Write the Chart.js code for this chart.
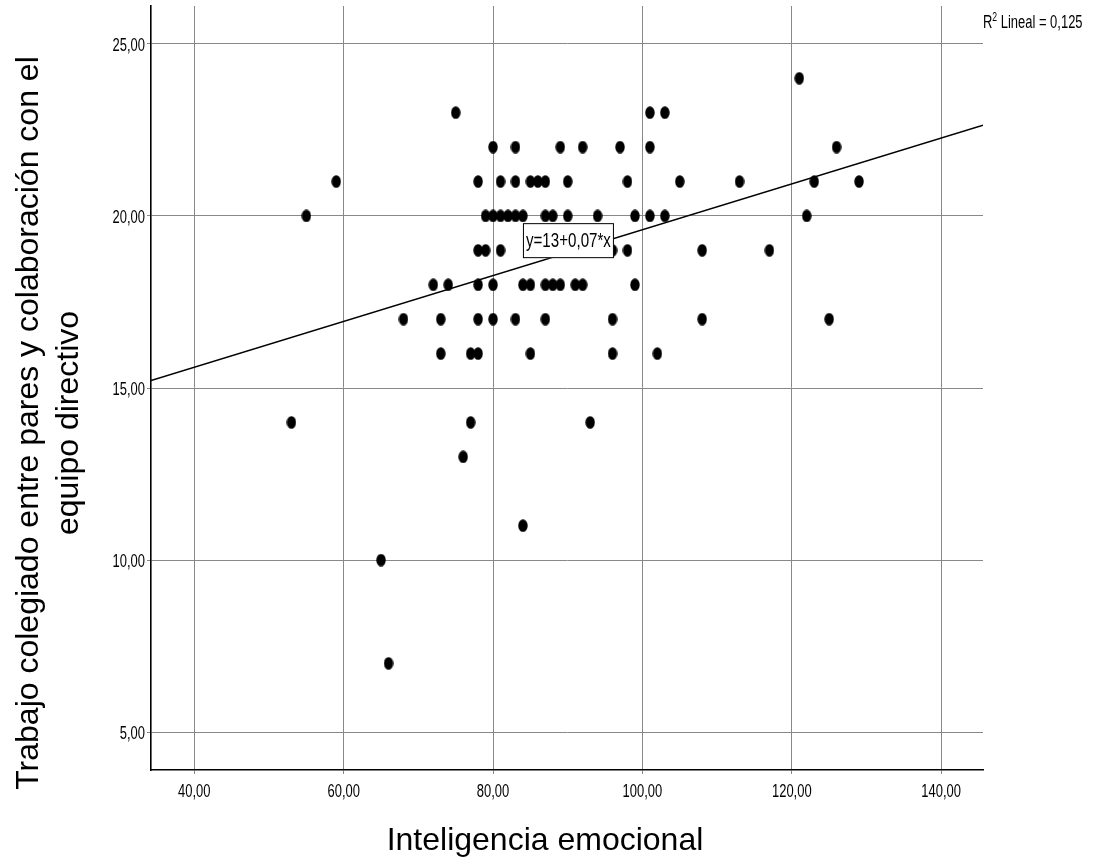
<!DOCTYPE html>
<html>
<head>
<meta charset="utf-8">
<script src="https://cdn.jsdelivr.net/npm/chart.js@4.4.1/dist/chart.umd.min.js"></script>
<style>
  html, body { margin: 0; background: #fff; }
  #wrap { width: 1094px; height: 859px; position: relative; }
</style>
</head>
<body>
<div id="wrap"><canvas id="scatter"></canvas></div>
<script>
// Inteligencia emocional (x) vs Trabajo colegiado (y)
const inteligencia = [
  121,
  75, 101, 103,
  80, 83, 89, 92, 97, 101, 126,
  59, 78, 81, 83, 85, 86, 87, 90, 98, 105, 113, 123, 129,
  55, 79, 80, 81, 82, 83, 84, 87, 88, 90, 94, 99, 101, 103, 122,
  78, 79, 81, 96, 98, 108, 117,
  72, 74, 78, 80, 84, 85, 87, 88, 89, 91, 92, 99,
  68, 73, 78, 80, 83, 87, 96, 108, 125,
  73, 77, 78, 85, 96, 102,
  53, 77, 93,
  76,
  84,
  65,
  66
];
const trabajo = [
  24,
  23, 23, 23,
  22, 22, 22, 22, 22, 22, 22,
  21, 21, 21, 21, 21, 21, 21, 21, 21, 21, 21, 21, 21,
  20, 20, 20, 20, 20, 20, 20, 20, 20, 20, 20, 20, 20, 20, 20,
  19, 19, 19, 19, 19, 19, 19,
  18, 18, 18, 18, 18, 18, 18, 18, 18, 18, 18, 18,
  17, 17, 17, 17, 17, 17, 17, 17, 17,
  16, 16, 16, 16, 16, 16,
  14, 14, 14,
  13,
  11,
  10,
  7
];

// recta de ajuste lineal
const fitIntercept = 12.94;
const fitSlope = 0.0666;
const eqLabel = 'y=13+0,07*x';
const r2Label = ' Lineal = 0,125';

const xTicks = [40, 60, 80, 100, 120, 140];
const yTicks = [5, 10, 15, 20, 25];
const xRange = [34.2, 145.6];
const yRange = [3.9, 26.1];

const xTitle = 'Inteligencia emocional';
const yTitle = ['Trabajo colegiado entre pares y colaboración con el', 'equipo directivo'];

const regular = "'Liberation Sans', Arial, sans-serif";
const squeeze = 0.72; // SPSS usa una fuente estrecha

// punto eliptico como en SPSS
function makeDot() {
  const c = document.createElement('canvas');
  c.width = 10;
  c.height = 13;
  const g = c.getContext('2d');
  g.fillStyle = '#000';
  g.beginPath();
  g.ellipse(5, 6.5, 4.7, 6.3, 0, 0, Math.PI * 2);
  g.fill();
  return c;
}

const points = inteligencia.map((x, i) => ({ x: x, y: trabajo[i] }));
const fitLine = xRange.map(x => ({ x: x, y: fitIntercept + fitSlope * x }));

const fmt = v => v.toFixed(2).replace('.', ',');

// texto estrecho: escala horizontal
function narrowText(ctx, text, x, y, size, align) {
  ctx.save();
  ctx.translate(x, y);
  ctx.scale(squeeze, 1);
  ctx.font = size + 'px ' + regular;
  ctx.textAlign = align;
  ctx.fillText(text, 0, 0);
  const w = ctx.measureText(text).width * squeeze;
  ctx.restore();
  return w;
}

const annotations = {
  id: 'annotations',
  afterDatasetsDraw(chart) {
    const ctx = chart.ctx;
    const xs = chart.scales.x, ys = chart.scales.y;
    const area = chart.chartArea;
    ctx.save();
    ctx.fillStyle = '#000';
    ctx.textBaseline = 'middle';

    // etiquetas de los ejes
    xTicks.forEach(v => narrowText(ctx, fmt(v), xs.getPixelForValue(v), 792, 18, 'center'));
    yTicks.forEach(v => narrowText(ctx, fmt(v), 145, ys.getPixelForValue(v) + 2, 18, 'right'));

    // caja de la ecuacion
    const bx = xs.getPixelForValue(84);
    const by = ys.getPixelForValue(19.79);
    ctx.fillStyle = '#fff';
    ctx.fillRect(bx, by, 91, 35);
    ctx.strokeStyle = '#000';
    ctx.lineWidth = 1;
    ctx.strokeRect(bx + 0.5, by + 0.5, 90, 34);
    ctx.fillStyle = '#000';
    narrowText(ctx, eqLabel, bx + 45.5, by + 18, 21, 'center');

    // R2
    ctx.textBaseline = 'alphabetic';
    let rx = area.right;
    rx += narrowText(ctx, 'R', rx, 28, 18, 'left');
    rx += narrowText(ctx, '2', rx, 21, 12, 'left');
    narrowText(ctx, r2Label, rx, 28, 18, 'left');

    // titulos de ejes
    ctx.font = '32px ' + regular;
    ctx.textAlign = 'center';
    ctx.fillText(xTitle, 545, 850);
    ctx.translate(0, 423);
    ctx.rotate(-Math.PI / 2);
    ctx.fillText(yTitle[0], 0, 38);
    ctx.fillText(yTitle[1], 0, 78);
    ctx.restore();
  }
};

new Chart(document.getElementById('scatter'), {
  type: 'scatter',
  data: {
    datasets: [{
      label: 'datos',
      data: points,
      pointStyle: makeDot(),
      pointRadius: 5,
      order: 2
    }, {
      type: 'line',
      label: 'ajuste',
      data: fitLine,
      borderColor: '#000',
      borderWidth: 1.4,
      pointRadius: 0,
      fill: false,
      order: 1
    }]
  },
  options: {
    responsive: true,
    maintainAspectRatio: false,
    animation: false,
    layout: { padding: { top: 6, right: 111, left: 0, bottom: 0 } },
    plugins: {
      legend: { display: false },
      tooltip: { enabled: false }
    },
    scales: {
      x: {
        type: 'linear',
        min: xRange[0],
        max: xRange[1],
        afterFit: s => { s.height = 89; s.paddingLeft = 0; s.paddingRight = 0; },
        afterBuildTicks: s => { s.ticks = xTicks.map(v => ({ value: v })); },
        ticks: { display: false },
        grid: { color: '#888', lineWidth: 1, tickLength: 4 },
        border: { color: '#000', width: 1.6 }
      },
      y: {
        type: 'linear',
        min: yRange[0],
        max: yRange[1],
        afterFit: s => { s.width = 151; s.paddingTop = 0; s.paddingBottom = 0; },
        afterBuildTicks: s => { s.ticks = yTicks.map(v => ({ value: v })); },
        ticks: { display: false },
        grid: { color: '#888', lineWidth: 1, tickLength: 4 },
        border: { color: '#000', width: 1.6 }
      }
    }
  },
  plugins: [annotations]
});
</script>
</body>
</html>
